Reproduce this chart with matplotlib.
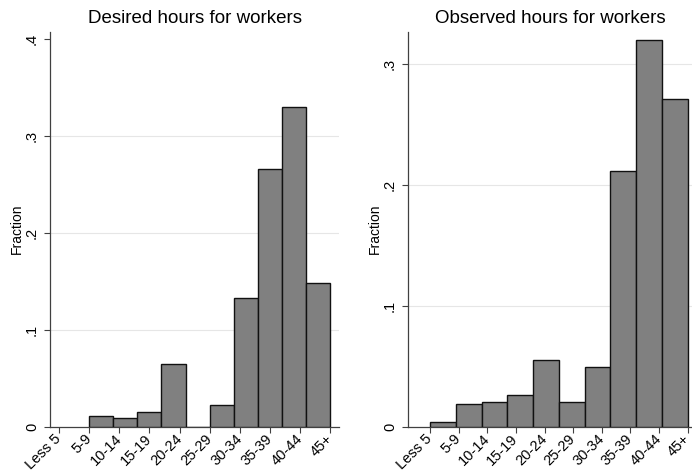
import numpy as np
import matplotlib
matplotlib.use("Agg")
import matplotlib.pyplot as plt

plt.rcParams['font.family'] = ['Liberation Sans', 'DejaVu Sans']

# hour categories (tick labels, positions 1..10)
categories = ['Less 5', '5-9', '10-14', '15-19', '20-24',
              '25-29', '30-34', '35-39', '40-44', '45+']

# desired hours: 10 bins over 2..10
desired_range = (2, 10)
desired_frac = [0.011, 0.0093, 0.015, 0.0646, 0.0, 0.0225,
                0.1325, 0.266, 0.3306, 0.148]

# observed hours: 10 bins over 1..10
observed_range = (1, 10)
observed_frac = [0.0039, 0.0188, 0.0207, 0.0265, 0.0548, 0.0207,
                 0.049, 0.212, 0.3203, 0.2713]


def hist_panel(ax, rng, frac, title, yticks, ylabels, ylim, xlim):
    edges = np.linspace(rng[0], rng[1], len(frac) + 1)
    ax.bar(edges[:-1], frac, width=np.diff(edges), align='edge',
           color='#808080', edgecolor='#111111', linewidth=1.0, zorder=3)
    ax.set_xlim(*xlim)
    ax.set_ylim(*ylim)
    ax.set_xticks(np.arange(1, len(categories) + 1))
    ax.set_xticklabels(categories, rotation=45, ha='right', va='center',
                       rotation_mode='anchor', fontsize=10.5)
    ax.set_yticks(yticks)
    ax.set_yticklabels(ylabels, rotation=90, va='center', fontsize=10.5)
    # light grid on the inner ticks only
    for t in yticks[1:]:
        if t < max(yticks) or len(yticks) == 4:
            ax.axhline(t, color='#e6e6e6', linewidth=0.8, zorder=1)
    ax.set_ylabel('Fraction', fontsize=10, labelpad=0.5)
    ax.set_title(title, fontsize=13.5, pad=6)
    for s in ['top', 'right']:
        ax.spines[s].set_visible(False)
    for s in ['left', 'bottom']:
        ax.spines[s].set_color('#404040')
        ax.spines[s].set_linewidth(0.9)
    ax.tick_params(direction='out', length=4, width=0.8, color='#404040')
    ax.tick_params(axis='y', pad=4)
    ax.tick_params(axis='x', pad=3)


fig = plt.figure(figsize=(6.92, 4.73), dpi=100)

ax1 = fig.add_axes([0.0723, 0.098, 0.4177, 0.835])
hist_panel(ax1, desired_range, desired_frac, 'Desired hours for workers',
           [0, 0.1, 0.2, 0.3, 0.4], ['0', '.1', '.2', '.3', '.4'],
           (0, 0.408), (0.7, 10.3))

ax2 = fig.add_axes([0.5896, 0.098, 0.4104, 0.835])
hist_panel(ax2, observed_range, observed_frac, 'Observed hours for workers',
           [0, 0.1, 0.2, 0.3], ['0', '.1', '.2', '.3'],
           (0, 0.327), (0.232, 10.15))

fig.savefig('out.png', dpi=100)
